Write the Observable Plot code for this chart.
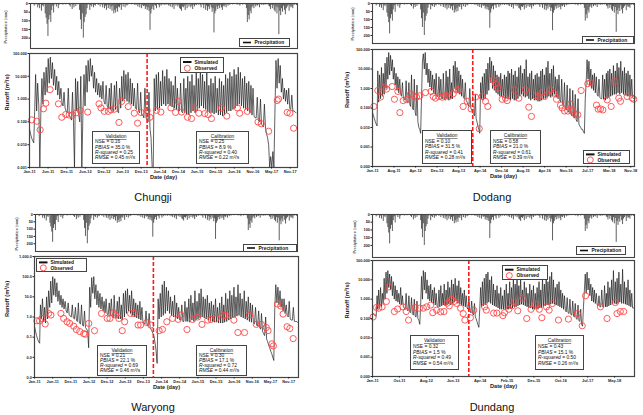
<!DOCTYPE html>
<html><head><meta charset="utf-8">
<script src="https://cdn.jsdelivr.net/npm/d3@7"></script>
<script src="https://cdn.jsdelivr.net/npm/@observablehq/plot@0.6"></script>
<style>
html,body{margin:0;padding:0;background:#fff;}
body{position:relative;width:643px;height:415px;overflow:hidden;font-family:Arial,"Liberation Sans",sans-serif;}
.station{position:absolute;width:120px;text-align:center;font-size:11px;line-height:12px;color:#111;}
</style></head><body>
<script>
// ---------------- DATA ----------------
// Shared daily-precipitation maxima per 10-day period (mm), Jan 2011 .. Dec 2018 (36 per year)
const precip = [
 2,0,5, 0,15,3, 8,0,25, 10,30,5, 45,12,20, 8,60,85, 120,190,95, 70,110,40, 15,55,8, 0,20,5, 30,10,0, 5,0,10,
 3,0,8, 0,5,0, 12,20,4, 35,10,25, 5,18,0, 8,2,40, 95,150,60, 200,110,80, 65,30,10, 5,40,12, 20,6,25, 10,15,3,
 5,12,2, 20,6,10, 25,8,30, 15,40,10, 30,12,35, 20,45,15, 60,40,55, 30,50,20, 25,10,40, 5,20,3, 25,8,15, 10,4,6,
 2,8,0, 4,10,2, 12,5,20, 8,25,5, 30,10,18, 15,35,20, 40,25,45, 155,60,35, 20,40,10, 15,30,5, 10,25,8, 15,5,10,
 5,12,3, 10,4,15, 8,20,5, 25,10,35, 5,15,8, 20,10,30, 35,45,20, 25,15,40, 10,30,5, 20,8,25, 15,35,10, 20,8,12,
 5,10,3, 12,25,6, 10,30,8, 40,15,45, 20,35,10, 25,50,30, 170,60,45, 20,35,15, 30,10,25, 40,15,20, 10,25,5, 15,8,10,
 5,2,8, 0,6,3, 4,10,2, 8,15,5, 3,10,0, 5,8,30, 110,70,95, 45,60,25, 15,30,8, 20,10,15, 8,25,5, 10,4,12,
 5,10,3, 8,2,15, 20,35,10, 30,12,40, 50,20,60, 25,180,45, 70,30,50, 15,40,65, 30,20,10, 45,15,25, 20,30,8, 10,5,12
];
const precipTicks = [0, 50, 100, 150, 200];

// Simulated runoff (m3/s) per 10-day step (1st, 11th, 21st of each month)
const chungjiSim = [
 0.05,0.03,0.02, 0.015,0.012,0.4, 12,0.3,5, 0.5,0.001,0.3, 8,0.6,15, 1.5,25,2, 60,5,70, 8,40,4, 20,2.5,10, 1.5,6,1.0, 3,0.7,0.5, 2,0.4,0.3,
 0.25,3,0.2, 0.15,0.12,2, 0.1,0.001,8, 0.3,6,0.2, 0.1,10,0.001, 0.3,12,0.5, 30,2,50, 6,60,10, 30,3,15, 2,8,1.5, 5,1.2,4, 1,6,0.8,
 0.6,4,0.5, 0.4,3,0.35, 5,0.4,0.3, 4,0.35,6, 0.3,0.25,3, 0.4,10,0.8, 18,1,12, 0.8,15,0.7, 8,0.6,5, 0.5,3,0.4, 0.35,5,0.3, 0.25,2,0.2,
 0.2,0.15,3, 0.15,0.12,0.1, 2,0.05,0.02, 0.001,0.001,8, 0.3,12,0.35, 15,0.4,6, 0.5,18,0.6, 10,0.5,20, 0.6,8,0.5, 6,0.45,4, 0.4,10,0.35, 3,0.3,0.3,
 5,0.28,0.25, 8,0.25,3, 0.22,10,0.2, 6,0.25,12, 0.3,4,0.25, 15,0.3,8, 0.4,20,0.5, 12,0.4,6, 0.35,15,0.3, 4,0.25,8, 0.25,5,0.22, 10,0.25,3,
 0.2,8,0.2, 6,0.18,4, 0.2,12,0.25, 8,0.3,15, 0.3,10,0.35, 20,0.4,12, 0.5,25,0.6, 15,0.5,8, 0.4,10,0.35, 5,0.3,6, 0.25,4,0.2, 3,0.18,0.15,
 0.15,1.2,0.12, 0.1,1,0.08, 0.07,0.06,0.6, 0.05,0.03,0.02, 0.01,0.001,0.003, 0.001,0.005,0.001, 0.3,50,3, 60,5,30, 2,8,1, 3,0.8,2.5, 0.6,3,0.4, 0.35,1.5,0.3,
 0.3,0.28,0.25
];
const dodangSim = [
 0.06,0.04,0.03, 0.02,0.015,0.012, 8,0.2,5, 0.3,12,0.4, 6,0.5,20, 1,40,3, 70,5,50, 8,30,3, 12,1.5,6, 0.8,4,0.6, 3,0.5,0.4, 2,0.35,0.3,
 0.25,2.5,0.2, 0.18,2,0.15, 0.12,5,0.1, 0.08,3,0.06, 0.04,1.5,0.02, 0.01,0.008,0.005, 0.4,25,60, 10,70,5, 20,2,10, 1.2,8,0.8, 5,0.6,3, 0.5,6,0.4,
 0.4,4,0.35, 3,0.3,0.3, 6,0.3,0.25, 8,0.3,4, 0.25,10,0.3, 2,0.3,15, 1,25,0.8, 12,0.6,8, 0.5,5,0.4, 3,0.35,0.3, 2,0.25,0.2, 0.15,0.12,1,
 0.1,0.08,0.06, 0.05,0.04,0.5, 0.03,0.02,0.012, 0.008,0.005,2, 0.3,4,0.25, 6,0.3,10, 0.5,20,0.8, 40,2,25, 1,15,0.8, 8,0.6,5, 0.5,4,0.4, 6,0.4,3,
 0.35,5,0.3, 4,0.3,8, 0.3,6,0.25, 10,0.3,5, 0.25,8,0.25, 4,0.3,12, 0.4,15,0.5, 6,0.4,10, 0.35,30,0.4, 4,0.3,6, 0.25,8,0.3, 3,0.25,5,
 0.25,6,0.22, 4,0.22,8, 0.25,10,0.3, 5,0.3,12, 0.35,25,0.4, 6,0.35,10, 0.4,15,0.5, 4,0.35,3, 0.3,5,0.25, 0.2,3,0.15, 0.12,2,0.1, 0.08,1.5,0.07,
 0.06,1,0.05, 0.04,0.8,0.035, 0.03,0.5,0.025, 0.02,0.3,0.015, 0.012,0.01,0.008, 0.008,0.006,0.005, 0.3,2,30, 3,25,1.5, 10,1,5, 0.8,6,0.6, 4,0.5,0.4, 3,0.35,0.3,
 0.3,5,0.28, 3,0.25,6, 0.3,8,0.35, 10,0.4,6, 0.45,15,0.5, 8,0.5,20, 0.6,12,0.5, 25,0.6,8, 0.5,12,0.45, 6,0.4,8, 0.4,5,0.4, 3,0.35,0.3
];
const waryongSim = [
 0.35,0.2,0.12, 0.08,0.06,0.05, 4,0.8,8, 0.6,3,0.5, 10,0.8,20, 3,60,5, 100,12,80, 10,50,6, 20,4,12, 3,8,2.5, 6,2,1.6, 5,1.3,1.1,
 1,4,0.9, 0.8,3,0.7, 0.6,5,0.5, 0.45,4,0.4, 0.35,2,0.3, 0.25,0.2,0.03, 30,3,90, 15,100,8, 40,4,20, 3,15,2.5, 10,2,6, 1.6,8,1.4,
 1.3,5,1.1, 8,1,0.9, 12,1,0.9, 6,0.8,10, 0.8,4,0.7, 15,1,20, 1.5,25,2, 12,1.5,20, 1.2,8,1, 5,0.9,4, 0.8,6,0.7, 3,0.6,0.5,
 0.45,2,0.4, 0.35,1.5,0.3, 0.25,0.2,0.15, 0.1,0.05,0.02, 0.005,8,0.8, 15,1,40, 1.2,60,1.5, 30,2,20, 1.5,10,1.2, 6,1,12, 0.9,5,0.8, 3,0.7,0.7,
 4,0.6,0.6, 6,0.6,3, 0.6,8,0.55, 12,0.7,5, 0.6,20,0.7, 6,0.8,15, 0.9,25,1, 10,0.9,8, 0.8,12,0.7, 5,0.65,6, 0.6,4,0.55, 8,0.55,3,
 0.5,5,0.5, 10,0.5,4, 0.55,15,0.6, 8,0.7,20, 0.8,12,0.9, 30,1,10, 1.1,40,1.2, 15,1,8, 0.9,20,0.8, 6,0.7,10, 0.6,5,0.55, 4,0.5,0.45,
 3,0.4,0.35, 2,0.3,0.25, 1.5,0.2,0.15, 0.12,1,0.08, 0.06,0.04,0.03, 0.02,0.015,0.01, 0.007,3,40, 5,30,4, 20,3,8, 2,8,1.5, 4,1.2,1, 6,0.8,0.7,
 0.7,3,0.6, 0.6,0.6,0.55, 0.55
];
const dundangSim = [
 0.2,0.17,0.15, 0.14,0.13,1.5, 0.3,3,0.35, 4,0.4,2, 0.6,12,1, 25,2,30, 4,20,3, 15,1.5,8, 1,5,0.8, 3,0.7,2, 0.55,4,0.5, 1.5,0.4,0.35,
 0.3,2,0.28, 0.25,1.5,0.22, 0.2,1.2,0.18, 0.15,1,0.13, 0.12,0.8,0.1, 0.08,0.05,0.5, 15,1,30, 3,25,2, 10,1,5, 0.8,6,0.7, 3,0.6,4, 0.5,2,0.45,
 0.4,3,0.4, 5,0.45,2, 0.5,6,0.45, 3,0.5,8, 0.55,4,0.5, 10,0.6,6, 0.7,12,0.8, 5,0.6,9, 0.55,4,0.5, 2,0.45,3, 0.4,1.5,0.35, 0.3,1,0.25,
 0.2,0.8,0.18, 0.15,0.6,0.12, 0.1,0.07,0.05, 0.035,0.3,4, 0.4,8,0.45, 12,0.5,20, 0.6,25,0.7, 10,0.6,15, 0.5,6,0.45, 3,0.4,5, 0.35,2,0.3, 4,0.3,1.5,
 0.3,3,0.28, 6,0.3,2, 0.3,8,0.32, 4,0.35,12, 0.4,6,0.4, 15,0.45,5, 0.5,10,0.55, 3,0.5,8, 0.45,4,0.4, 2,0.35,6, 0.35,3,0.3, 5,0.3,2,
 0.3,4,0.3, 8,0.35,3, 0.35,12,0.4, 6,0.45,20, 0.5,8,0.5, 15,0.55,25, 0.6,10,0.55, 4,0.5,6, 0.45,8,0.4, 3,0.35,2, 0.3,1.5,0.25, 0.22,1.2,0.2,
 0.18,1,0.16, 0.15,0.8,0.13, 0.12,0.6,0.1, 0.09,0.5,0.08, 0.07,0.3,0.05, 0.04,0.4,3, 20,2,25, 3,12,1.5, 6,0.8,4, 0.7,3,0.6, 2,0.5,0.45, 1.5,0.4,0.4,
 3,0.4,0.38, 5,0.4,2, 0.4,8,0.45, 4,0.5,10, 0.55,30,0.6, 8,0.55,12, 0.6,25,0.7, 6,0.6,35, 0.6,8,0.55, 4,0.5,10, 0.45,3,0.4, 2,0.35,0.35
];

// Observed runoff: day since 2011-01-01 and value (m3/s)
const chungjiObsDay = [22,71,103,135,158,199,280,312,350,383,415,450,489,563,672,691,723,762,788,820,865,891,955,1013,1045,1077,1138,1164,1228,1270,1367,1412,1437,1469,1527,1566,1598,1637,1695,1727,1759,1855,1907,2010,2032,2106,2209,2241,2312,2395,2408,2492,2518,2553];
const chungjiObsVal = [0.123,0.107,0.045,0.375,0.66,2.6,0.62,0.16,0.21,0.2,0.2,0.25,0.32,0.27,0.62,0.41,0.29,0.29,0.34,0.36,0.095,0.79,0.47,0.24,0.088,0.26,0.32,0.16,0.32,0.27,0.41,0.26,0.81,0.27,0.16,0.14,0.41,0.24,0.23,0.21,0.14,0.41,0.18,0.41,0.24,0.29,0.099,0.083,0.039,0.87,1.0,0.26,0.24,0.053];
const dodangObsDay = [15,59,89,134,156,219,245,283,305,342,379,424,461,491,528,591,654,677,703,740,777,814,851,900,937,963,1011,1056,1100,1149,1190,1223,1260,1286,1346,1372,1398,1446,1483,1502,1584,1632,1706,1743,1773,1825,1855,1892,1918,1985,2022,2052,2097,2115,2141,2178,2208,2227,2257,2290,2327,2401,2431,2498,2517,2543,2569,2617,2662,2699,2747,2766,2840,2896,2914];
const dodangObsVal = [0.12,0.79,0.36,1.17,0.93,1.26,0.28,0.71,0.058,0.24,0.27,0.53,0.42,0.36,0.42,0.62,0.71,0.39,0.32,0.39,0.36,0.44,0.39,0.53,0.85,0.85,0.12,0.22,0.09,0.36,0.0087,0.39,0.22,0.12,2.8,1.75,1.05,0.28,0.32,0.24,0.85,0.32,0.85,0.11,0.037,0.42,0.39,0.62,0.39,0.85,0.58,0.28,0.14,0.1,0.07,0.07,0.16,0.07,0.05,0.045,0.79,1.75,2.0,0.14,0.087,0.09,0.08,0.26,0.12,2.3,0.32,0.22,0.39,0.32,0.28];
const waryongObsDay = [23,50,73,106,140,163,262,289,322,349,389,415,449,488,505,538,595,664,721,748,781,804,837,870,894,953,987,1027,1053,1113,1153,1236,1269,1312,1369,1425,1452,1512,1568,1618,1661,1718,1751,1801,1877,1900,1977,2017,2083,2133,2199,2249,2299,2316,2355,2369,2409,2442,2465,2505,2532,2565];
const waryongObsVal = [0.65,0.65,0.85,0.45,1.5,1.25,1.5,0.85,0.58,0.48,0.35,0.24,0.19,0.15,0.14,0.48,0.21,1.5,0.85,0.85,1.6,1.25,0.85,0.21,0.58,1.5,1.5,0.4,0.4,0.53,0.4,0.21,0.24,0.58,0.85,0.76,1.25,0.24,0.76,1.0,0.43,0.7,0.76,0.85,1.2,1.2,0.7,0.17,0.17,1.25,0.43,0.43,0.3,0.21,0.047,0.037,4.4,3.5,1.4,0.33,0.27,0.085];
const dundangObsDay = [7,44,70,107,155,181,244,280,339,376,402,476,524,568,605,649,672,716,760,797,834,856,882,908,937,982,1011,1030,1092,1129,1251,1269,1351,1387,1454,1472,1520,1557,1583,1620,1675,1720,1768,1815,1860,1889,1941,1970,2007,2074,2185,2284,2339,2376,2542,2616,2708,2727,2764,2801];
const dundangObsVal = [0.12,0.37,0.34,0.4,0.76,4.3,0.23,0.31,0.4,0.23,0.083,0.37,0.34,0.34,0.4,0.49,0.2,0.27,0.22,0.23,0.62,0.45,1.0,0.76,0.6,0.34,0.18,0.083,0.11,0.27,0.4,0.27,0.19,0.19,0.14,0.2,0.3,0.45,0.67,0.25,1.1,0.1,0.3,0.55,0.3,0.11,0.4,0.27,0.6,0.083,0.093,0.18,0.042,1.5,0.4,0.1,0.67,0.18,0.23,0.23];

// x-axis tick dates
const ticks180 = ["2011-01-01","2011-06-30","2011-12-27","2012-06-24","2012-12-21","2013-06-19","2013-12-16","2014-06-14","2014-12-11","2015-06-09","2015-12-06","2016-06-03","2016-11-30","2017-05-29","2017-11-25"];
const ticks240 = ["2011-01-01","2011-08-29","2012-04-25","2012-12-21","2013-08-18","2014-04-15","2014-12-11","2015-08-08","2016-04-04","2016-11-30","2017-07-28","2018-03-25","2018-11-20"];
const ticks300 = ["2011-01-01","2011-10-28","2012-08-23","2013-06-19","2014-04-15","2015-02-09","2015-12-06","2016-10-01","2017-07-28","2018-05-24"];
const yTicks5 = [100, 10, 1, 0.1, 0.01, 0.001];
const yTicks6 = [100, 10, 1, 0.1, 0.01, 0.001, 0.0001];
const yTicksW = [1000, 100, 10, 1, 0.1, 0.01, 0.001];

// statistics
const statNames = ["NSE", "PBIAS", "R-squared", "RMSE"];
const statUnits = ["", " %", "", " m\u00b3/s"];
const chungjiVal = ["0.16", "35.0", "0.25", "0.45"], chungjiCal = ["0.25", "8.9", "0.40", "0.22"];
const dodangVal = ["0.10", "31.5", "0.41", "0.28"], dodangCal = ["0.58", "21.0", "0.61", "0.39"];
const waryongVal = ["0.21", "22.1", "0.69", "0.46"], waryongCal = ["0.30", "17.1", "0.72", "0.44"];
const dundangVal = ["0.32", "1.5", "0.49", "0.54"], dundangCal = ["0.43", "15.1", "0.50", "0.26"];

// period ends / validation-calibration split
const chungjiEnd = "2018-02-04", chungjiSplit = "2014-02-11";
const dodangEnd = "2019-01-01", dodangSplit = "2014-01-23";
const waryongEnd = "2018-03-03", waryongSplit = "2014-03-25";
const dundangEnd = "2019-01-01", dundangSplit = "2013-12-10";
const precipEnd = "2019-01-01";

// ---------------- DRAWING ----------------
const FONT = "Arial, 'Liberation Sans', sans-serif";
const T0 = Date.UTC(2011, 0, 1);
const dekadDate = i => new Date(Date.UTC(2011 + Math.floor(i / 36), Math.floor((i % 36) / 3), 1 + 10 * (i % 3)));
const dayDate = d => new Date(T0 + d * 864e5);

function place(node, left, top) {
  node.style.position = "absolute";
  node.style.left = left + "px";
  node.style.top = top + "px";
  document.body.appendChild(node);
}
const baseStyle = {fontFamily: FONT, fontSize: "5px", color: "#222", background: "transparent", overflow: "visible"};

function precipChart(L) {
  const ml = 36, mr = 2, mt = 3, mb = 3;
  const data = precip.map((v, i) => ({date: dekadDate(i), v}));
  const svg = Plot.plot({
    width: L.pw + ml + mr, height: L.ph + mt + mb,
    marginLeft: ml, marginRight: mr, marginTop: mt, marginBottom: mb,
    style: baseStyle,
    x: {type: "utc", domain: [new Date(T0), new Date(precipEnd)], axis: null},
    y: {domain: [0, L.pmax], reverse: true},
    marks: [
      Plot.ruleX(data, {x: "date", y1: 0, y2: "v", stroke: "#2a2a2a", strokeWidth: 0.75}),
      Plot.frame({stroke: "#444", strokeWidth: 1.1}),
      Plot.axisY({ticks: precipTicks, tickFormat: d => String(d), fontSize: 3.9, fontWeight: "bold", tickSize: 1.5, tickPadding: 1, label: null})
    ]
  });
  place(svg, L.px - ml, L.py - mt);
  // rotated axis title in its own small svg
  const len = 40, cx = L.plab, cy = L.py + L.ph / 2 + 1;
  const t = d3.create("svg").attr("width", 8).attr("height", len).attr("font-family", FONT);
  t.append("text").attr("transform", `translate(4,${len / 2}) rotate(-90)`).attr("text-anchor", "middle")
    .attr("dy", "0.35em").attr("font-size", 4.1).attr("fill", "#222").text("Precipitation (mm)");
  place(t.node(), cx - 4, cy - len / 2);
}

function runoffChart(c, L) {
  const ml = 30, mr = 2, mt = 2, mb = 20;
  const simData = c.sim.map((v, i) => ({date: dekadDate(i), v}));
  const obsData = c.obsDay.map((d, i) => ({date: dayDate(d), v: c.obsVal[i]}));
  const svg = Plot.plot({
    width: L.fw + ml + mr, height: L.fh + mt + mb,
    marginLeft: ml, marginRight: mr, marginTop: mt, marginBottom: mb,
    style: baseStyle,
    x: {type: "utc", domain: [new Date(T0), new Date(c.xEnd)]},
    y: {type: "log", domain: c.yDomain},
    marks: [
      Plot.line(simData, {x: "date", y: "v", stroke: "#1c1c1c", strokeWidth: 0.7, clip: true}),
      Plot.dot(obsData, {x: "date", y: "v", r: 3.1, stroke: "#ff4646", strokeWidth: 0.9, fill: "none"}),
      Plot.ruleX([new Date(c.split)], {stroke: "#ff1a1a", strokeWidth: 1.6, strokeDasharray: "4,2"}),
      Plot.frame({stroke: "#444", strokeWidth: 1.2}),
      Plot.axisY({ticks: c.yTicks, tickFormat: d3.format(c.yFmt), fontSize: 3.9, fontWeight: "bold", tickSize: 1.5, tickPadding: 1, label: null}),
      Plot.axisX({ticks: c.xTicks.map(s => new Date(s)), tickFormat: d3.utcFormat("%b-%y"), fontSize: 3.9, fontWeight: "bold", tickSize: 1.5, tickPadding: 0.8, label: null}),
      Plot.text(["Runoff (m\u00b3/s)"], {frameAnchor: "left", rotate: -90, dx: L.ylab - L.fx, fontSize: 5.8, fontWeight: "bold"}),
      Plot.text(["Date (day)"], {frameAnchor: "bottom", dy: 11, fontSize: 5.6, fontWeight: "bold"})
    ]
  });
  place(svg, L.fx - ml, L.fy - mt);
}

function box([x, y, w, h]) {
  const svg = d3.create("svg").attr("width", w + 1).attr("height", h + 1)
    .attr("font-family", FONT).style("overflow", "visible");
  svg.append("rect").attr("x", 0.5).attr("y", 0.5).attr("width", w).attr("height", h)
    .attr("fill", "#fff").attr("stroke", "#444").attr("stroke-width", 1);
  place(svg.node(), x - 0.5, y - 0.5);
  return svg;
}

function simObsLegend(r) {
  const [x, y, w, h] = r;
  const g = box(r);
  const y1 = 0.5 + h * 0.3, y2 = 0.5 + h * 0.72;
  g.append("line").attr("x1", 3).attr("x2", 11.5).attr("y1", y1).attr("y2", y1).attr("stroke", "#111").attr("stroke-width", 2);
  g.append("circle").attr("cx", 7.3).attr("cy", y2).attr("r", 3).attr("fill", "none").attr("stroke", "#ff4646").attr("stroke-width", 0.9);
  g.append("text").attr("x", 14.5).attr("y", y1).attr("dy", "0.35em").attr("font-size", 4.9).attr("font-weight", "bold").attr("fill", "#111").text("Simulated");
  g.append("text").attr("x", 14.5).attr("y", y2).attr("dy", "0.35em").attr("font-size", 4.9).attr("font-weight", "bold").attr("fill", "#111").text("Observed");
}

function precipLegend(r) {
  const [x, y, w, h] = r;
  const g = box(r);
  g.append("line").attr("x1", 4).attr("x2", 12).attr("y1", 0.5 + h / 2).attr("y2", 0.5 + h / 2).attr("stroke", "#111").attr("stroke-width", 1.6);
  g.append("text").attr("x", 15.5).attr("y", 0.5 + h / 2).attr("dy", "0.35em").attr("font-size", 4.9).attr("font-weight", "bold").attr("fill", "#111").text("Precipitation");
}

function statBox(r, title, vals) {
  const [x, y, w, h] = r;
  const g = box(r);
  const fs = 4.9, step = (h - 5.5) / 5.05;
  const cy = k => 0.5 + 5 + step * k;
  g.append("text").attr("x", 0.5 + w / 2).attr("y", cy(0)).attr("dy", "0.35em").attr("text-anchor", "middle")
    .attr("font-size", fs).attr("text-decoration", "underline").attr("fill", "#111").text(title);
  statNames.forEach((nm, k) => {
    const t = g.append("text").attr("x", 3).attr("y", cy(k + 1)).attr("dy", "0.35em").attr("font-size", fs).attr("fill", "#111");
    t.append("tspan").attr("font-style", k === 0 ? "normal" : "italic").text(nm);
    t.append("tspan").text(" = " + vals[k] + statUnits[k]);
  });
}

function station(name, cx, cy) {
  const d = document.createElement("div");
  d.className = "station";
  d.textContent = name;
  d.style.left = (cx - 60) + "px";
  d.style.top = (cy - 6.5) + "px";
  document.body.appendChild(d);
}

const panels = [
  {name: "Chungji", sim: chungjiSim, obsDay: chungjiObsDay, obsVal: chungjiObsVal, xEnd: chungjiEnd, split: chungjiSplit,
   xTicks: ticks180, yDomain: [0.001, 100], yTicks: yTicks5, yFmt: ",.3f", val: chungjiVal, cal: chungjiCal,
   L: {fx: 29, fy: 53, fw: 268, fh: 114, px: 30, py: 3, pw: 267, ph: 45, pmax: 260, ylab: 7, plab: 6,
       st: [153, 197], leg: [180, 57, 43, 15], vb: [92, 131, 47, 32], cb: [196, 131, 52, 32], pl: [239, 38, 50, 8]}},
  {name: "Dodang", sim: dodangSim, obsDay: dodangObsDay, obsVal: dodangObsVal, xEnd: dodangEnd, split: dodangSplit,
   xTicks: ticks240, yDomain: [0.0001, 100], yTicks: yTicks6, yFmt: ",.3f", val: dodangVal, cal: dodangCal,
   L: {fx: 372, fy: 49, fw: 262, fh: 117, px: 372, py: 3, pw: 262, ph: 40, pmax: 250, ylab: 347, plab: 353,
       st: [492, 197], leg: [583, 150, 46, 13], vb: [422, 130, 49, 33], cb: [490, 130, 50, 33], pl: [582, 36, 51, 7]}},
  {name: "Waryong", sim: waryongSim, obsDay: waryongObsDay, obsVal: waryongObsVal, xEnd: waryongEnd, split: waryongSplit,
   xTicks: ticks180, yDomain: [0.001, 1000], yTicks: yTicksW, yFmt: ",.1f", val: waryongVal, cal: waryongCal,
   L: {fx: 34, fy: 256, fw: 264, fh: 121, px: 35, py: 214, pw: 262, ph: 37, pmax: 253, ylab: 7, plab: 17,
       st: [153, 407], leg: [36, 258, 50, 13], vb: [97, 345, 49, 30], cb: [196, 345, 50, 30], pl: [243, 244, 53, 7]}},
  {name: "Dundang", sim: dundangSim, obsDay: dundangObsDay, obsVal: dundangObsVal, xEnd: dundangEnd, split: dundangSplit,
   xTicks: ticks300, yDomain: [0.0001, 100], yTicks: yTicks6, yFmt: ",.3f", val: dundangVal, cal: dundangCal,
   L: {fx: 372, fy: 260, fw: 262, fh: 116, px: 372, py: 214, pw: 262, ph: 43, pmax: 278, ylab: 347, plab: 355,
       st: [492, 407], leg: [502, 265, 45, 14], vb: [410, 335, 48, 34], cb: [535, 335, 48, 34], pl: [576, 246, 49, 8]}}
];

for (const p of panels) {
  precipChart(p.L);
  runoffChart(p, p.L);
  statBox(p.L.vb, "Validation", p.val);
  statBox(p.L.cb, "Calibration", p.cal);
  simObsLegend(p.L.leg);
  precipLegend(p.L.pl);
  station(p.name, p.L.st[0], p.L.st[1]);
}
</script>
</body></html>
